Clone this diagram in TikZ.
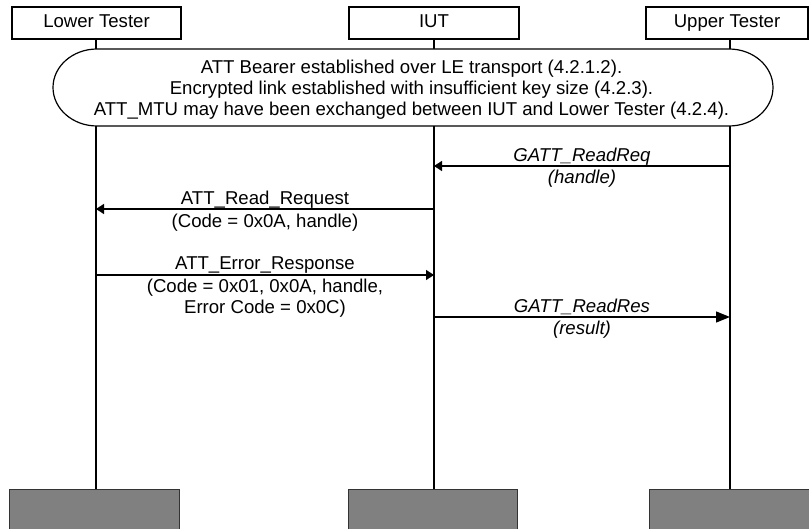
\documentclass[tikz,border=0pt]{standalone}
\usepackage{fontspec}
\setmainfont{Liberation Sans}
\usetikzlibrary{arrows.meta}
\begin{document}
\begin{tikzpicture}[x=1pt,y=-1pt,
  font=\fontsize{18.6}{21}\selectfont,
  actor/.style={draw, line width=1.2pt, minimum height=32pt, inner sep=0pt, text height=13.4pt, text depth=3.6pt},
  base/.style={draw=black!80, fill=black!50, line width=1pt, minimum height=50pt, inner sep=0pt, anchor=north},
  life/.style={line width=2pt},
  msg/.style={line width=1.3pt, -{Triangle[length=8pt,width=10pt]}},
  bigmsg/.style={line width=1.3pt, -{Triangle[length=14pt,width=11pt]}},
  lbl/.style={anchor=base, inner sep=0pt},
  setupbox/.style={draw, fill=white, line width=1.2pt}]
\useasboundingbox (0,0) rectangle (809,529);

% actors
\node[actor, minimum width=169pt] (lt) at (96.5,23) {Lower Tester};
\node[actor, minimum width=170pt] (it) at (434,23) {IUT};
\node[actor, minimum width=162pt] (ut) at (727,23) {Upper Tester};

% bottom boxes
\node[base, minimum width=170pt] (lb) at (94,489) {};
\node[base, minimum width=169pt] (ib) at (432.5,489) {};
\node[base, minimum width=166pt] (ub) at (732,489) {};

% lifeline coordinates
\coordinate (xL) at (96,0);
\coordinate (xI) at (434,0);
\coordinate (xU) at (730,0);

% lifelines
\draw[life] (lt.south -| xL) -- (lb.north -| xL);
\draw[life] (it.south -| xI) -- (ib.north -| xI);
\draw[life] (ut.south -| xU) -- (ub.north -| xU);

% setup box
\draw[setupbox] (97,49) -- (729,49)
  arc[start angle=-90, end angle=90, x radius=44, y radius=38.5]
  -- (97,126)
  arc[start angle=90, end angle=270, x radius=44, y radius=38.5] -- cycle;
\node[lbl] (s1) at (411.5,73.2) {ATT Bearer established over LE transport (4.2.1.2).};
\node[lbl] (s2) at (411.5,94.2) {Encrypted link established with insufficient key size (4.2.3).};
\node[lbl] (s3) at (411.5,115.2) {ATT\_MTU may have been exchanged between IUT and Lower Tester (4.2.4).};

% message end points
\coordinate (m1u) at (xU |- 0,166);
\coordinate (m1i) at (xI |- 0,166);
\coordinate (m2i) at (xI |- 0,209);
\coordinate (m2l) at (xL |- 0,209);
\coordinate (m3l) at (xL |- 0,275);
\coordinate (m3i) at (xI |- 0,275);
\coordinate (m4i) at (xI |- 0,317);
\coordinate (m4u) at (xU |- 0,317);

% messages
\draw[msg] (m1u) -- (m1i);
\node[lbl] (t1a) at (582,161.5) {\itshape GATT\_ReadReq};
\node[lbl] (t1b) at (582,184) {\itshape (handle)};

\draw[msg] (m2i) -- (m2l);
\node[lbl] (t2a) at (265,204.5) {ATT\_Read\_Request};
\node[lbl] (t2b) at (265,227.5) {(Code = 0x0A, handle)};

\draw[msg] (m3l) -- (m3i);
\node[lbl] (t3a) at (265,270) {ATT\_Error\_Response};
\node[lbl] (t3b) at (265,292.5) {(Code = 0x01, 0x0A, handle,};
\node[lbl] (t3c) at (265,313.5) {Error Code = 0x0C)};

\draw[bigmsg] (m4i) -- (m4u);
\node[lbl] (t4a) at (582,312.5) {\itshape GATT\_ReadRes};
\node[lbl] (t4b) at (582,335) {\itshape (result)};
\end{tikzpicture}
\end{document}
